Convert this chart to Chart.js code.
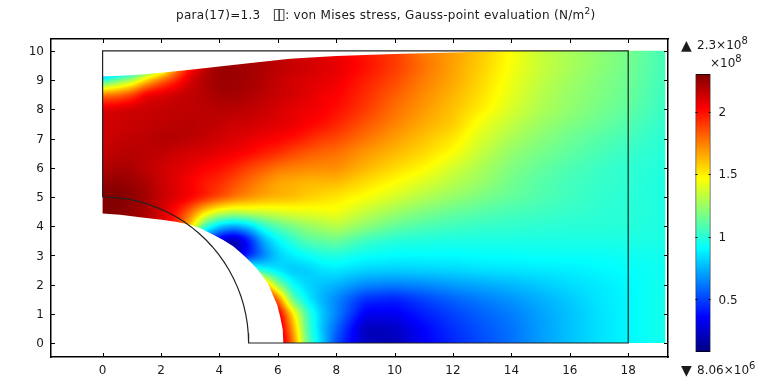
<!DOCTYPE html>
<html>
<head>
<meta charset="utf-8">
<script src="https://cdn.jsdelivr.net/npm/chart.js@4"></script>
<style>
    html, body { margin: 0; padding: 0; background: #fff; overflow: hidden; }
    body { width: 775px; height: 384px; position: relative; font-family: "DejaVu Sans", sans-serif; color: #1a1a1a; }
    canvas { position: absolute; top: 0; }
    .note { position: absolute; white-space: nowrap; line-height: 14px; font-size: 12px; }
    .note sup { font-size: 10px; line-height: 0; vertical-align: 5px; }
</style>
</head>
<body>
<canvas id="fieldChart" width="775" height="384" style="left:0"></canvas>
<canvas id="barChart" width="115" height="384" style="left:660px"></canvas>
<div class="note" style="left:176px;top:7px;letter-spacing:.28px">para(17)=1.3 &nbsp; <span style="font-size:15px;letter-spacing:-3.5px">▯▯</span><span style="margin-left:3px">: von Mises stress, Gauss-point evaluation (N/m<sup style="font-size:9px">2</sup>)</span></div>
<div class="note" style="left:681px;top:38px;font-size:14px">▲</div>
<div class="note" style="left:697px;top:38px">2.3×10<sup>8</sup></div>
<div class="note" style="left:710px;top:56px">×10<sup>8</sup></div>
<div class="note" style="left:681px;top:363px;font-size:14px">▼</div>
<div class="note" style="left:697px;top:363px">8.06×10<sup>6</sup></div>
<script>
// axes
const xTicks = [0, 2, 4, 6, 8, 10, 12, 14, 16, 18];
const yTicks = [0, 1, 2, 3, 4, 5, 6, 7, 8, 9, 10];
const barTicks = [0.5, 1, 1.5, 2];
const stressMin = 0.0806;
const stressMax = 2.3;

// stress in 1e8 N/m2 at these nodes
const gridX = [0, .5, 1, 1.5, 2, 2.5, 3, 3.5, 4, 4.5, 5, 5.5, 6, 6.5, 7, 7.5, 8, 9, 10, 11, 12, 13, 14, 15, 16, 17, 18, 19, 19.5];
const gridY = [10, 9.5, 9, 8.5, 8, 7.5, 7, 6.5, 6, 5.5, 5, 4.5, 4, 3.5, 3, 2.5, 2, 1.5, 1, .5, 0];
const stress = [
    [.1, .2, .4, .7, 1, 1.4, 1.85, 2.05, 2.2, 2.22, 2.2, 2.18, 2.15, 2.13, 2.1, 2.08, 2.05, 1.97, 1.9, 1.75, 1.68, 1.58, 1.46, 1.34, 1.28, 1.22, 1.17, 1.08, 1.05],
    [.2, .45, .55, .85, 1.1, 1.65, 1.98, 2.15, 2.24, 2.24, 2.22, 2.2, 2.17, 2.15, 2.13, 2.1, 2.08, 2, 1.9, 1.78, 1.67, 1.57, 1.45, 1.35, 1.28, 1.22, 1.16, 1.08, 1.05],
    [.98, 1.15, 1.3, 1.58, 1.8, 1.95, 2.12, 2.2, 2.24, 2.24, 2.22, 2.19, 2.15, 2.12, 2.1, 2.08, 2.06, 1.96, 1.87, 1.75, 1.66, 1.55, 1.43, 1.33, 1.26, 1.2, 1.15, 1.07, 1.05],
    [1.78, 1.8, 1.9, 2.08, 2.1, 2.14, 2.16, 2.18, 2.22, 2.22, 2.2, 2.17, 2.14, 2.12, 2.09, 2.05, 2.03, 1.93, 1.82, 1.72, 1.63, 1.53, 1.41, 1.31, 1.24, 1.19, 1.14, 1.06, 1.04],
    [2.1, 2.12, 2.14, 2.14, 2.15, 2.16, 2.16, 2.17, 2.18, 2.18, 2.16, 2.14, 2.11, 2.08, 2.06, 2.04, 2, 1.9, 1.78, 1.69, 1.6, 1.5, 1.38, 1.29, 1.23, 1.17, 1.12, 1.05, 1.03],
    [2.13, 2.13, 2.14, 2.15, 2.16, 2.17, 2.18, 2.17, 2.15, 2.13, 2.13, 2.11, 2.09, 2.07, 2.03, 2, 1.95, 1.84, 1.74, 1.65, 1.58, 1.43, 1.33, 1.25, 1.19, 1.14, 1.09, 1.03, 1.01],
    [2.13, 2.15, 2.16, 2.17, 2.19, 2.19, 2.17, 2.15, 2.13, 2.1, 2.08, 2.05, 2.03, 2, 1.95, 1.9, 1.87, 1.77, 1.68, 1.6, 1.52, 1.38, 1.28, 1.21, 1.15, 1.1, 1.06, 1.01, 1],
    [2.15, 2.17, 2.18, 2.17, 2.16, 2.13, 2.11, 2.1, 2.07, 2.05, 2.02, 1.97, 1.93, 1.87, 1.83, 1.8, 1.78, 1.69, 1.62, 1.55, 1.46, 1.33, 1.23, 1.17, 1.12, 1.07, 1.03, 1, .99],
    [2.19, 2.21, 2.2, 2.16, 2.13, 2.1, 2.07, 2.03, 2, 1.95, 1.88, 1.83, 1.77, 1.75, 1.73, 1.72, 1.72, 1.63, 1.55, 1.48, 1.37, 1.28, 1.19, 1.13, 1.08, 1.04, 1.01, .99, .98],
    [2.25, 2.26, 2.24, 2.2, 2.14, 2.09, 2.03, 1.97, 1.93, 1.86, 1.79, 1.72, 1.66, 1.64, 1.62, 1.62, 1.62, 1.54, 1.47, 1.39, 1.31, 1.24, 1.16, 1.1, 1.06, 1.03, 1.01, .98, .98],
    [2.29, 2.3, 2.27, 2.22, 2.15, 2.1, 2.05, 1.97, 1.88, 1.79, 1.72, 1.67, 1.64, 1.62, 1.58, 1.55, 1.52, 1.46, 1.38, 1.3, 1.24, 1.18, 1.13, 1.09, 1.05, 1.02, 1, .98, .97],
    [2.3, 2.28, 2.25, 2.2, 2.12, 2, 1.8, 1.55, 1.4, 1.35, 1.38, 1.38, 1.4, 1.42, 1.43, 1.44, 1.45, 1.34, 1.26, 1.19, 1.14, 1.1, 1.07, 1.05, 1.03, 1.01, 1, .98, .97],
    [2.3, 2.28, 2.25, 2.2, 2.1, 1.95, 1.6, 1.05, .8, .72, .8, 1, 1.1, 1.18, 1.24, 1.28, 1.32, 1.22, 1.13, 1.08, 1.05, 1.03, 1.02, 1.01, 1, 1, .99, .98, .97],
    [2.3, 2.28, 2.2, 2.1, 1.9, 1.5, 1, .5, .25, .13, .38, .72, .9, 1, 1.1, 1.12, 1.15, 1.04, .99, .98, .97, .97, .97, .97, .97, .97, .97, .97, .97],
    [.2, .2, .2, .2, .2, .2, .2, .2, .2, .2, .4, .62, .8, .88, .92, .97, .98, .93, .91, .91, .91, .92, .92, .93, .93, .93, .94, .95, .95],
    [1.1, 1.1, 1.1, 1.1, 1.1, 1.1, 1.1, 1.1, 1.1, 1.1, 1.1, .92, .84, .78, .8, .85, .87, .82, .81, .82, .83, .85, .86, .87, .88, .9, .92, .94, .94],
    [2, 2, 2, 2, 2, 2, 2, 2, 2, 2, 2, 1.75, 1.2, .92, .82, .78, .75, .66, .64, .66, .7, .73, .76, .8, .84, .87, .9, .95, .95],
    [2.3, 2.3, 2.3, 2.3, 2.3, 2.3, 2.3, 2.3, 2.3, 2.3, 2.3, 2.3, 1.8, 1.12, .88, .75, .65, .45, .42, .5, .57, .63, .68, .74, .8, .86, .9, .95, .96],
    [2.3, 2.3, 2.3, 2.3, 2.3, 2.3, 2.3, 2.3, 2.3, 2.3, 2.3, 2.3, 2.15, 1.55, 1.05, .8, .65, .33, .33, .42, .5, .57, .63, .71, .78, .85, .9, .95, .96],
    [2.3, 2.3, 2.3, 2.3, 2.3, 2.3, 2.3, 2.3, 2.3, 2.3, 2.3, 2.3, 2.2, 1.7, 1.08, .78, .58, .2, .23, .36, .46, .54, .61, .7, .78, .85, .9, .95, .96],
    [2.3, 2.3, 2.3, 2.3, 2.3, 2.3, 2.3, 2.3, 2.3, 2.3, 2.3, 2.3, 2.25, 1.8, 1.13, .82, .52, .22, .2, .34, .44, .52, .6, .7, .78, .85, .9, .95, .96]
];

// deformed edge of the coloured area
const edgeX = [0, 0, 1, 2, 3, 4, 5, 6.42, 8, 10, 12, 14, 16, 19.27, 19.27, 6.19, 6.17, 6.08, 5.98, 5.85, 5.68, 5.49, 5.28, 5.05, 4.77, 4.47, 4.13, 3.79, 3.4, 3, 2.5, 2.02, 1.28, .6];
const edgeY = [4.43, 9.13, 9.17, 9.25, 9.36, 9.47, 9.58, 9.73, 9.83, 9.9, 9.95, 10, 10.01, 10.01, 0, 0, .45, .91, 1.3, 1.6, 2, 2.28, 2.55, 2.79, 3.06, 3.31, 3.53, 3.71, 3.9, 4.05, 4.15, 4.22, 4.31, 4.39];

// undeformed geometry outline
const outlineX = [0, .327, .653, .975, 1.294, 1.607, 1.913, 2.212, 2.5, 2.778, 3.044, 3.296, 3.536, 3.759, 3.967, 4.157, 4.33, 4.484, 4.619, 4.735, 4.83, 4.904, 4.957, 4.989, 5, 18, 18, 0, 0];
const outlineY = [5, 4.989, 4.957, 4.904, 4.83, 4.735, 4.619, 4.484, 4.33, 4.157, 3.967, 3.759, 3.536, 3.296, 3.044, 2.778, 2.5, 2.212, 1.913, 1.607, 1.294, .975, .653, .327, 0, 0, 10, 10, 5];

const jetStops = [[0, 0, 0, 127], [.125, 0, 0, 255], [.375, 0, 255, 255], [.625, 255, 255, 0], [.875, 255, 0, 0], [1, 127, 0, 0]];
const blurRadius = 5;

function jetColor(value) {
    const t = Math.min(1, Math.max(0, (value - stressMin) / (stressMax - stressMin)));
    let i = 0;
    while (i < jetStops.length - 2 && t > jetStops[i + 1][0]) i++;
    const a = jetStops[i], b = jetStops[i + 1];
    const f = (t - a[0]) / (b[0] - a[0]);
    return [a[1] + (b[1] - a[1]) * f, a[2] + (b[2] - a[2]) * f, a[3] + (b[3] - a[3]) * f];
}

// shades between the stress nodes, positions come from the chart scales
function stressAt(x, y) {
    let i = 0;
    while (i < gridX.length - 2 && x > gridX[i + 1]) i++;
    let j = 0;
    while (j < gridY.length - 2 && y < gridY[j + 1]) j++;
    const fx = Math.min(1, Math.max(0, (x - gridX[i]) / (gridX[i + 1] - gridX[i])));
    const fy = Math.min(1, Math.max(0, (gridY[j] - y) / (gridY[j] - gridY[j + 1])));
    const top = stress[j][i] + (stress[j][i + 1] - stress[j][i]) * fx;
    const bottom = stress[j + 1][i] + (stress[j + 1][i + 1] - stress[j + 1][i]) * fx;
    return top + (bottom - top) * fy;
}

// soften the kinks of the coarse node grid
function boxBlur(src, stepA, stepB, countA, countB) {
    const out = new Float32Array(src.length);
    for (let b = 0; b < countB; b++) {
        for (let a = 0; a < countA; a++) {
            let sum = 0, n = 0;
            for (let d = -blurRadius; d <= blurRadius; d++) {
                const p = a + d;
                if (p < 0 || p >= countA) continue;
                sum += src[b * stepB + p * stepA];
                n++;
            }
            out[b * stepB + a * stepA] = sum / n;
        }
    }
    return out;
}

const fieldPlugin = {
    id: "fieldPlugin",
    beforeDatasetsDraw(chart) {
        const { ctx, chartArea, scales } = chart;
        const left = Math.floor(chartArea.left), top = Math.floor(chartArea.top);
        const width = Math.ceil(chartArea.right) - left, height = Math.ceil(chartArea.bottom) - top;
        const off = document.createElement("canvas");
        off.width = width;
        off.height = height;
        const offCtx = off.getContext("2d");
        let values = new Float32Array(width * height);
        for (let py = 0; py < height; py++) {
            const y = scales.y.getValueForPixel(top + py + .5);
            for (let px = 0; px < width; px++) {
                values[py * width + px] = stressAt(scales.x.getValueForPixel(left + px + .5), y);
            }
        }
        values = boxBlur(values, 1, width, width, height);
        values = boxBlur(values, width, 1, height, width);
        const image = offCtx.createImageData(width, height);
        values.forEach((v, n) => {
            const c = jetColor(v);
            image.data[n * 4] = c[0];
            image.data[n * 4 + 1] = c[1];
            image.data[n * 4 + 2] = c[2];
            image.data[n * 4 + 3] = 255;
        });
        offCtx.putImageData(image, 0, 0);
        ctx.save();
        ctx.beginPath();
        edgeX.forEach((x, i) => {
            ctx.lineTo(scales.x.getPixelForValue(x), scales.y.getPixelForValue(edgeY[i]));
        });
        ctx.closePath();
        ctx.clip();
        ctx.drawImage(off, left, top);
        ctx.restore();
    }
};

// short tick marks pointing into the plot on every side
const tickMarks = {
    id: "tickMarks",
    afterDraw(chart) {
        const { ctx, chartArea, scales } = chart;
        const len = chart.options.markLength;
        ctx.save();
        ctx.strokeStyle = "#000";
        ctx.lineWidth = 1;
        Object.values(scales).forEach(s => {
            if (!s.options.display) return;
            s.ticks.forEach(t => {
                const p = Math.round(s.getPixelForValue(t.value)) + .5;
                ctx.beginPath();
                if (s.position === "bottom") { ctx.moveTo(p, chartArea.bottom); ctx.lineTo(p, chartArea.bottom - len); }
                if (s.position === "top") { ctx.moveTo(p, chartArea.top); ctx.lineTo(p, chartArea.top + len); }
                if (s.position === "left") { ctx.moveTo(chartArea.left, p); ctx.lineTo(chartArea.left + len, p); }
                if (s.position === "right") { ctx.moveTo(chartArea.right, p); ctx.lineTo(chartArea.right - len, p); }
                ctx.stroke();
            });
        });
        ctx.restore();
    }
};

const tickFont = { family: "'DejaVu Sans'", size: 12 };
const tickColor = "#1a1a1a";

function sideAxis(axis, position, min, max, values, size, showLabels, padding) {
    return {
        type: "linear",
        axis,
        position,
        min,
        max,
        offset: false,
        afterBuildTicks: s => { s.ticks = values.map(value => ({ value })); },
        afterFit: s => { if (axis === "x") s.height = size; else s.width = size; },
        border: { display: true, color: "#000", width: 1.5, z: 1 },
        grid: { drawOnChartArea: false, drawTicks: false, z: 1 },
        ticks: { display: showLabels, autoSkip: false, maxRotation: 0, color: tickColor, font: tickFont, padding, labelOffset: axis === "y" ? 1 : 0, callback: v => String(v) }
    };
}

const xMin = -1.767, xMax = 19.363, yMin = -.48, yMax = 10.41;

new Chart(document.getElementById("fieldChart"), {
    type: "scatter",
    plugins: [fieldPlugin, tickMarks],
    data: {
        datasets: [{
            label: "outline",
            data: outlineX.map((x, i) => ({ x, y: outlineY[i] })),
            showLine: true,
            borderColor: "#222",
            borderWidth: 1.2,
            pointRadius: 0,
            tension: 0
        }]
    },
    options: {
        responsive: false,
        animation: false,
        markLength: 4,
        layout: { padding: 0 },
        plugins: { legend: { display: false }, tooltip: { enabled: false } },
        scales: {
            x: sideAxis("x", "bottom", xMin, xMax, xTicks, 27, true, 7),
            x2: sideAxis("x", "top", xMin, xMax, xTicks, 39, false, 0),
            y: sideAxis("y", "left", yMin, yMax, yTicks, 51, true, 7),
            y2: sideAxis("y", "right", yMin, yMax, yTicks, 107, false, 0)
        }
    }
});

// colour bar
new Chart(document.getElementById("barChart"), {
    type: "bar",
    plugins: [tickMarks],
    data: {
        labels: [""],
        datasets: [{
            data: [[stressMin, stressMax]],
            barPercentage: 1,
            categoryPercentage: 1,
            borderColor: "#000",
            borderWidth: 1,
            borderSkipped: false,
            backgroundColor: ctx => {
                const area = ctx.chart.chartArea;
                if (!area) return "#000";
                const gradient = ctx.chart.ctx.createLinearGradient(0, area.bottom, 0, area.top);
                jetStops.forEach(s => gradient.addColorStop(s[0], `rgb(${s[1]}, ${s[2]}, ${s[3]})`));
                return gradient;
            }
        }]
    },
    options: {
        responsive: false,
        animation: false,
        markLength: 2,
        layout: { padding: { top: 74, bottom: 32 } },
        plugins: { legend: { display: false }, tooltip: { enabled: false } },
        scales: {
            x: { display: false },
            y: { ...sideAxis("y", "right", stressMin, stressMax, barTicks, 64.5, true, 8), border: { display: false } },
            y3: { ...sideAxis("y", "left", stressMin, stressMax, barTicks, 35.5, false, 0), border: { display: false } }
        }
    }
});
</script>
</body>
</html>
